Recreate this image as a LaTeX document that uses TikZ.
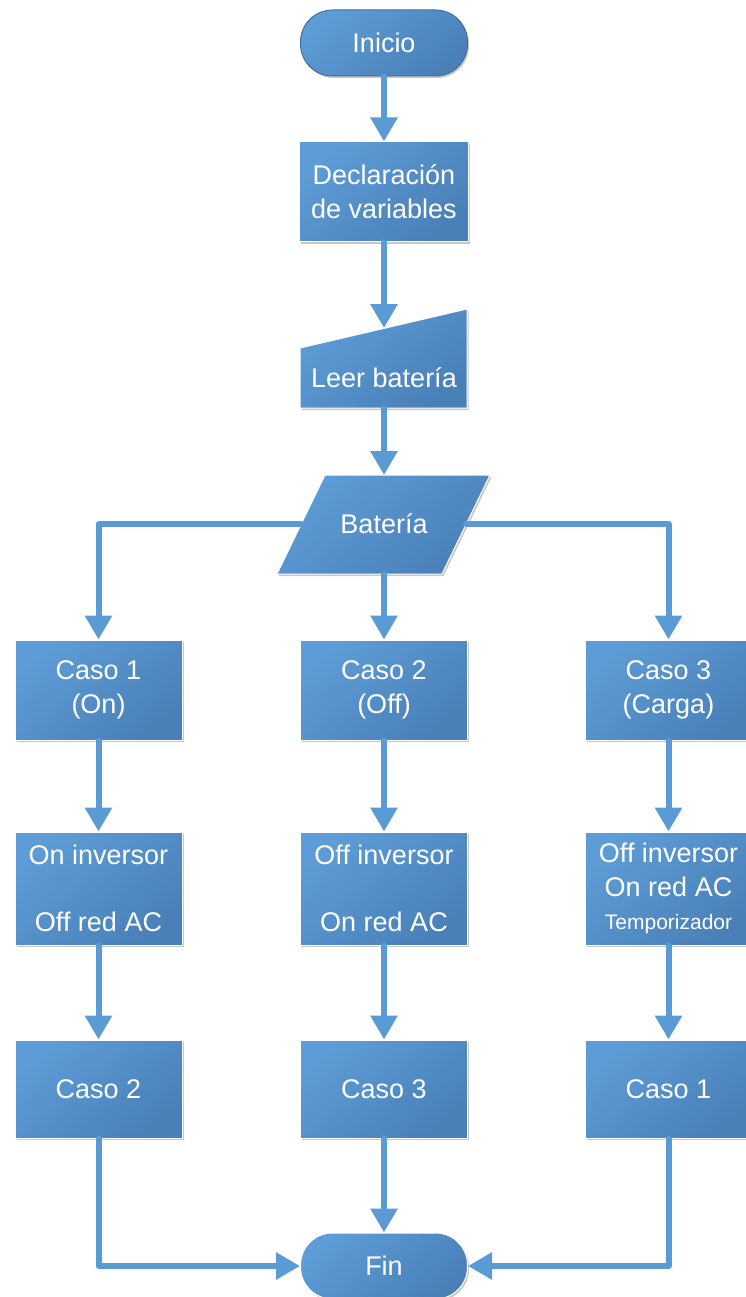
\documentclass[tikz,border=0pt]{standalone}
\usepackage{fontspec}
\setmainfont{Liberation Sans}
\usetikzlibrary{arrows.meta,shadows}
\definecolor{cA}{HTML}{5D9CD6}
\definecolor{cB}{HTML}{4A80B8}
\definecolor{line}{HTML}{5B9BD5}
\definecolor{edge}{HTML}{41719C}
\tikzset{
  x=1pt, y=-1pt,
  fillshade/.style={top color=cA, bottom color=cB, shading angle=40},
  shad/.style={drop shadow={shadow xshift=1.5pt, shadow yshift=-2pt, opacity=0.22, fill=black}},
  box/.style={rectangle, fillshade, shad, draw=white, line width=1pt, text=white,
    font=\fontsize{27}{34}\selectfont, align=center, minimum width=167pt, inner sep=0pt},
  term/.style={box, rounded corners=32pt, minimum height=66pt},
  txt/.style={text=white, font=\fontsize{27}{34}\selectfont, align=center, inner sep=0pt},
  conn/.style={draw=line, line width=6pt, line join=round, line cap=round,
    -{Triangle[width=26pt,length=24pt]}},
}
\begin{document}
\begin{tikzpicture}
\useasboundingbox (0,0) rectangle (745,1297);
% terminals and boxes
\node[term, draw=edge] (inicio) at (384,43) {Inicio};
\node[box, minimum width=169pt, minimum height=100pt] (decl) at (384,192) {Declaración\\de variables};
% manual input
\coordinate (leerNW) at (300,348);
\coordinate (leerNE) at (467,309);
\coordinate (leerSE) at (467,408);
\coordinate (leerSW) at (300,408);
\coordinate (leerT) at (384,328);
\coordinate (leerB) at (384,408);
\path[fillshade, shad, draw=white, line width=1pt] (leerSW) -- (leerSE) -- (leerNE) -- (leerNW) -- cycle;
\node[txt] (leer) at (384,378) {Leer batería};
% parallelogram
\coordinate (batSW) at (277,574);
\coordinate (batSE) at (442,574);
\coordinate (batNE) at (490,475);
\coordinate (batNW) at (325,475);
\coordinate (batT) at (384,475);
\coordinate (batB) at (384,574);
\coordinate (batL) at (301,524);
\coordinate (batR) at (466,524);
\path[fillshade, shad, draw=white, line width=1pt] (batSW) -- (batSE) -- (batNE) -- (batNW) -- cycle;
\node[txt] (bat) at (384,524) {Batería};
% row 1
\node[box, minimum height=100pt] (c1) at (98.5,690) {Caso 1\\(On)};
\node[box, minimum height=100pt] (c2) at (384,690) {Caso 2\\(Off)};
\node[box, minimum height=100pt] (c3) at (668.5,690) {Caso 3\\(Carga)};
% row 2
\node[box, minimum height=113pt] (a1) at (98.5,888.5) {On inversor\\[33pt]Off red AC};
\node[box, minimum height=113pt] (a2) at (384,888.5) {Off inversor\\[33pt]On red AC};
\node[box, minimum height=113pt] (a3) at (668.5,888.5) {Off inversor\\On red AC\\[-1pt]{\fontsize{21}{24}\selectfont Temporizador}};
% row 3
\node[box, minimum height=98pt] (b1) at (98.5,1089) {Caso 2};
\node[box, minimum height=98pt] (b2) at (384,1089) {Caso 3};
\node[box, minimum height=98pt] (b3) at (668.5,1089) {Caso 1};
\node[term] (fin) at (384,1266) {Fin};
% connectors
\draw[conn] (inicio.south) -- (decl.north);
\draw[conn] (decl.south) -- (leerT);
\draw[conn] (leerB) -- (batT);
\draw[conn] (batB) -- (c2.north);
\draw[conn] (batL) -| (c1.north);
\draw[conn] (batR) -| (c3.north);
\draw[conn] (c1.south) -- (a1.north);
\draw[conn] (c2.south) -- (a2.north);
\draw[conn] (c3.south) -- (a3.north);
\draw[conn] (a1.south) -- (b1.north);
\draw[conn] (a2.south) -- (b2.north);
\draw[conn] (a3.south) -- (b3.north);
\draw[conn] (b1.south) |- (fin.west);
\draw[conn] (b2.south) -- (fin.north);
\draw[conn] (b3.south) |- (fin.east);
\end{tikzpicture}
\end{document}
